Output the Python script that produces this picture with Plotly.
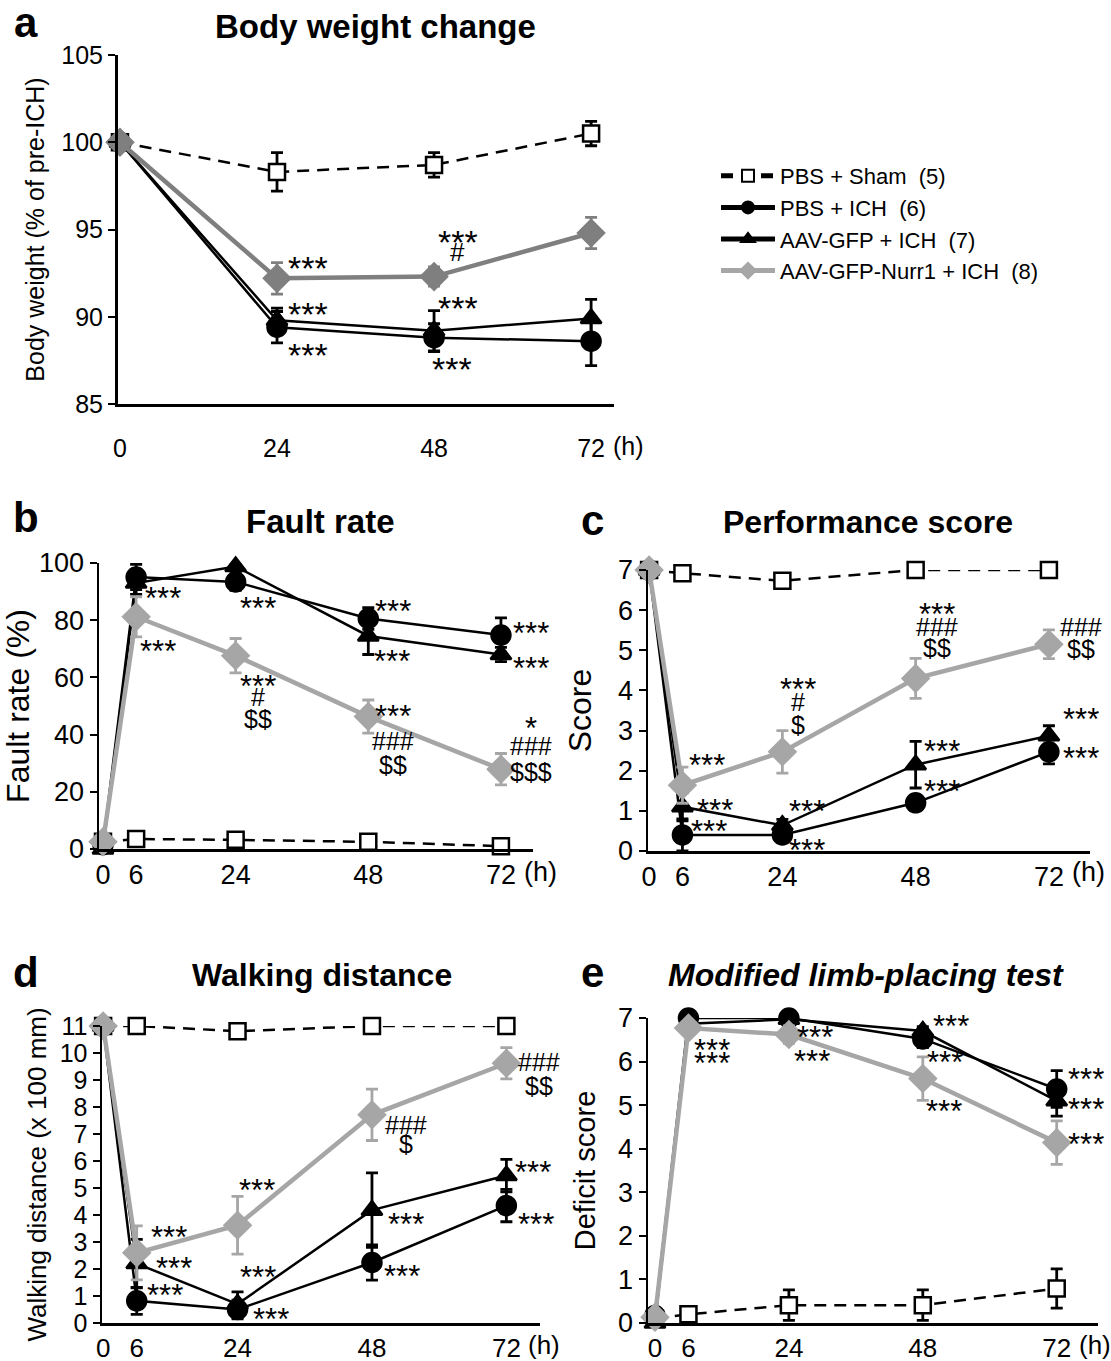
import plotly.graph_objects as go

W, H = 1111, 1361
FONT = "Arial, Liberation Sans, Helvetica, sans-serif"

# ---------------- data ----------------
groups = ["PBS + Sham  (5)", "PBS + ICH  (6)", "AAV-GFP + ICH  (7)", "AAV-GFP-Nurr1 + ICH  (8)"]

# a: body weight change (% of pre-ICH)
t_a = [0, 24, 48, 72]
bw_sham = [100, 98.3, 98.7, 100.5]
bw_sham_err = [0, 1.1, 0.7, 0.7]
bw_pbs = [100, 89.4, 88.8, 88.6]
bw_pbs_err = [0, 0.9, 0.8, 1.4]
bw_gfp = [100, 89.8, 89.2, 89.9]
bw_gfp_err = [0, 0.7, 1.15, 1.1]
bw_nurr = [100, 92.2, 92.3, 94.8]
bw_nurr_err = [0, 0.9, 0.55, 0.9]

# b-e time points
t = [0, 6, 24, 48, 72]

# b: fault rate (%)
fr_sham = [2.5, 3.5, 3.2, 2.5, 1.0]
fr_sham_err = [0, 0.5, 0.5, 0.5, 0.5]
fr_pbs = [1.5, 95.1, 93.4, 80.6, 74.8]
fr_pbs_err = [0, 4.4, 3.0, 3.8, 6.0]
fr_gfp = [0, 93.0, 98.8, 74.5, 68.0]
fr_gfp_err = [0, 4.0, 1.5, 6.5, 2.5]
fr_nurr = [2.5, 81.2, 67.6, 46.3, 27.9]
fr_nurr_err = [0, 7.0, 6.0, 5.8, 5.5]

# c: performance score
ps_sham = [7, 6.92, 6.73, 7.0, 7.0]
ps_sham_err = [0, 0.05, 0.15, 0.05, 0.05]
ps_pbs = [7, 0.4, 0.4, 1.2, 2.47]
ps_pbs_err = [0, 0.4, 0.1, 0.12, 0.3]
ps_gfp = [7, 1.1, 0.64, 2.15, 2.87]
ps_gfp_err = [0, 0.35, 0.15, 0.58, 0.25]
ps_nurr = [7, 1.64, 2.47, 4.3, 5.15]
ps_nurr_err = [0, 0.45, 0.53, 0.5, 0.36]

# d: walking distance (x 100 mm)
wd_sham = [11, 11, 10.81, 11, 11]
wd_sham_err = [0, 0.05, 0.08, 0.05, 0.05]
wd_pbs = [11, 0.82, 0.5, 2.24, 4.35]
wd_pbs_err = [0, 0.5, 0.35, 0.65, 0.6]
wd_gfp = [11, 2.2, 0.7, 4.18, 5.46]
wd_gfp_err = [0, 0.9, 0.45, 1.38, 0.6]
wd_nurr = [11, 2.6, 3.62, 7.71, 9.62]
wd_nurr_err = [0, 1.0, 1.07, 0.95, 0.58]

# e: modified limb-placing test deficit score
ml_sham = [0.1, 0.2, 0.41, 0.41, 0.79]
ml_sham_err = [0, 0.1, 0.35, 0.35, 0.45]
ml_pbs = [0.17, 7.0, 7.0, 6.52, 5.37]
ml_pbs_err = [0, 0.0, 0.05, 0.2, 0.42]
ml_gfp = [0.0, 6.87, 6.97, 6.7, 5.1]
ml_gfp_err = [0, 0.1, 0.05, 0.1, 0.35]
ml_nurr = [0.13, 6.77, 6.62, 5.61, 4.14]
ml_nurr_err = [0, 0.15, 0.2, 0.5, 0.5]

# significance labels (text, hour, value)
sig_a = [("***", 28.7, 93.3), ("***", 28.7, 90.66), ("***", 28.7, 88.3),
         ("***", 51.6, 94.8), ("#", 51.6, 93.7), ("***", 51.6, 91.0), ("***", 50.8, 87.5),
         ("***", 77.0, 96.3), ("###", 77.0, 95.0), ("$$$", 77.0, 93.4),
         ("***", 77.0, 90.5), ("***", 77.0, 88.3)]
sig_b = [("***", 11.2, 100.9), ("***", 10.9, 90.5), ("***", 10.0, 71.9),
         ("***", 28.1, 100.9), ("***", 28.1, 87.0), ("***", 28.0, 59.5), ("#", 28.0, 53.3), ("$$", 28.0, 45.3),
         ("***", 52.5, 85.8), ("***", 52.2, 68.4), ("***", 52.5, 49.2), ("###", 52.5, 37.6), ("$$", 52.5, 29.4),
         ("***", 77.5, 78.3), ("***", 77.5, 66.0), ("*", 77.5, 45.1), ("###", 77.5, 36.0), ("$$$", 77.5, 27.0)]
sig_c = [("***", 10.5, 2.34), ("***", 11.8, 1.22), ("***", 10.8, 0.68),
         ("***", 28.4, 1.18), ("***", 28.4, 0.22), ("***", 26.8, 4.22), ("#", 26.8, 3.7), ("$", 26.8, 3.14),
         ("***", 52.8, 2.68), ("***", 52.8, 1.68), ("***", 51.8, 6.09), ("###", 51.8, 5.59), ("$$", 51.8, 5.05),
         ("###", 77.8, 5.59), ("$$", 77.8, 5.02), ("***", 77.8, 3.47), ("***", 77.8, 2.5)]
sig_d = [("***", 11.7, 3.47), ("***", 12.7, 2.32), ("***", 11.1, 1.32),
         ("***", 27.4, 5.19), ("***", 27.7, 1.97), ("***", 30.0, 0.42),
         ("***", 54.0, 3.96), ("***", 53.4, 2.02), ("###", 54.0, 7.34), ("$", 54.0, 6.64),
         ("###", 77.8, 9.68), ("$$", 77.8, 8.78), ("***", 76.8, 5.87), ("***", 77.2, 3.96)]
sig_e = [("***", 9.9, 7.3), ("***", 10.2, 6.44), ("***", 10.2, 6.14),
         ("***", 28.7, 7.27), ("***", 28.7, 6.73), ("***", 28.2, 6.18),
         ("***", 53.0, 7.0), ("***", 52.0, 6.16), ("***", 51.8, 5.04),
         ("***", 77.2, 5.77), ("***", 77.2, 5.08), ("***", 77.2, 4.28)]

# ---------------- helpers ----------------
def pxx(x):
    return x / W

def pyy(y):
    return 1 - y / H

GRAY_A = "#7f7f7f"
GRAY = "#a6a6a6"

fig = go.Figure()


def add_series(xref, yref, x, ys, errs, gray, legend):
    styles = [
        dict(color="black", symbol="square", fill="white", size=16, lw=2.5, dash="12px,8px"),
        dict(color="black", symbol="circle", fill="black", size=19, lw=2.5, dash="solid"),
        dict(color="black", symbol="triangle-up", fill="black", size=18, lw=2.5, dash="solid"),
        dict(color=gray, symbol="diamond", fill=gray, size=20, lw=4.5, dash="solid"),
    ]
    for i, (y, e, s) in enumerate(zip(ys, errs, styles)):
        fig.add_trace(go.Scatter(
            x=x, y=y, xaxis=xref, yaxis=yref, mode="lines+markers",
            name=groups[i], showlegend=legend, cliponaxis=False,
            line=dict(color=s["color"], width=s["lw"], dash=s["dash"]),
            marker=dict(symbol=s["symbol"], size=s["size"], color=s["fill"],
                        line=dict(color=s["color"], width=2.5)),
            error_y=dict(type="data", array=e, visible=True, color=s["color"],
                         thickness=2.8, width=6),
        ))


add_series("x", "y", t_a, [bw_sham, bw_pbs, bw_gfp, bw_nurr],
           [bw_sham_err, bw_pbs_err, bw_gfp_err, bw_nurr_err], GRAY_A, False)
add_series("x2", "y2", t, [fr_sham, fr_pbs, fr_gfp, fr_nurr],
           [fr_sham_err, fr_pbs_err, fr_gfp_err, fr_nurr_err], GRAY, True)
add_series("x3", "y3", t, [ps_sham, ps_pbs, ps_gfp, ps_nurr],
           [ps_sham_err, ps_pbs_err, ps_gfp_err, ps_nurr_err], GRAY, False)
add_series("x4", "y4", t, [wd_sham, wd_pbs, wd_gfp, wd_nurr],
           [wd_sham_err, wd_pbs_err, wd_gfp_err, wd_nurr_err], GRAY, False)
add_series("x5", "y5", t, [ml_sham, ml_pbs, ml_gfp, ml_nurr],
           [ml_sham_err, ml_pbs_err, ml_gfp_err, ml_nurr_err], GRAY, False)

# ---------------- axes ----------------
def xaxis(dom, rng, vals, texts, fs, standoff, lw, anchor):
    return dict(domain=[pxx(dom[0]), pxx(dom[1])], range=rng, showline=True, linecolor="black",
                linewidth=lw, ticks="", ticklen=0, tickvals=vals, ticktext=texts, showgrid=False,
                zeroline=False, tickfont=dict(size=fs, color="black", family=FONT),
                ticklabelstandoff=standoff, fixedrange=True, automargin=False, anchor=anchor)


def yaxis(dom, rng, dtick, title, tfs, fs, tstand, lw, anchor):
    return dict(domain=[pyy(dom[1]), pyy(dom[0])], range=rng, showline=True, linecolor="black",
                linewidth=lw, ticks="outside", ticklen=7, tickwidth=2, tickcolor="black",
                dtick=dtick, tick0=rng[0], showgrid=False, zeroline=False,
                tickfont=dict(size=fs, color="black", family=FONT),
                title=dict(text=title, font=dict(size=tfs, color="black", family=FONT), standoff=tstand),
                anchor=anchor, automargin=False, fixedrange=True)

xv = [0, 6, 24, 48, 72]
xt = ["0", "6", "24", "48", "72"]

fig.update_layout(
    xaxis=xaxis([118, 614], [-0.3, 75.5], [0, 24, 48, 72], ["0", "24", "48", "72"], 25, 20, 3, "y"),
    yaxis=yaxis([55, 404], [85, 105], 5, "Body weight (% of pre-ICH)", 25, 25, 10, 3, "x"),
    xaxis2=xaxis([99, 533], [-0.72, 77.8], xv, xt, 27, 0, 2.5, "y2"),
    yaxis2=yaxis([563, 849], [0, 100], 20, "Fault rate (%)", 32, 27, 1, 2.5, "x2"),
    xaxis3=xaxis([648, 1090], [-0.2, 79.4], xv, xt, 27, 0, 2.5, "y3"),
    yaxis3=yaxis([570, 851], [0, 7], 1, "Score", 32, 27, 17, 2.5, "x3"),
    xaxis4=xaxis([102, 540], [-0.2, 78.0], xv, xt, 26, 0, 2.5, "y4"),
    yaxis4=yaxis([1026, 1323], [0, 11], 1, "Walking distance (x 100 mm)", 26, 25, 6, 2.5, "x4"),
    xaxis5=xaxis([648, 1098], [-1.25, 79.4], xv, xt, 26, 0, 2.5, "y5"),
    yaxis5=yaxis([1018, 1323], [0, 7], 1, "Deficit score", 29, 27, 14, 2.5, "x5"),
)

# ---------------- annotations ----------------
ann = []

def sig(lst, xr, yr, fs_star, fs_other):
    for txt, xx, yy in lst:
        star = set(txt) == {"*"}
        fs = fs_star if star else fs_other
        ann.append(dict(text=txt, x=xx, y=yy, xref=xr, yref=yr, showarrow=False,
                        xanchor="center", yanchor="middle",
                        yshift=-round(fs * 0.27) if star else 0,
                        font=dict(size=fs, color="black", family=FONT)))

sig(sig_a, "x", "y", 34, 26)
sig(sig_b, "x2", "y2", 31, 25)
sig(sig_c, "x3", "y3", 31, 25)
sig(sig_d, "x4", "y4", 31, 25)
sig(sig_e, "x5", "y5", 31, 25)

def ptext(txt, x, y, fs, bold=True, xanchor="center"):
    ann.append(dict(text=txt, x=pxx(x), y=pyy(y), xref="paper", yref="paper", showarrow=False,
                    xanchor=xanchor, yanchor="middle",
                    font=dict(size=fs, color="black", family=FONT,
                              weight="bold" if bold else "normal")))

# panel letters and titles
ptext("a", 26, 22, 42)
ptext("Body weight change", 376, 27, 33)
ptext("b", 26, 518, 42)
ptext("Fault rate", 320, 521, 33)
ptext("c", 592, 520, 42)
ptext("Performance score", 868, 522, 32)
ptext("d", 26, 972, 42)
ptext("Walking distance", 322, 975, 32)
ptext("e", 592, 972, 42)
ptext("<i>Modified limb-placing test</i>", 866, 975, 32)

# "(h)" unit labels to the right of the 72 tick label
for xr, y, fs, sh in [("x", 446, 25, 20), ("x2", 872, 27, 21), ("x3", 872, 27, 21),
                      ("x4", 1345, 26, 20), ("x5", 1345, 26, 20)]:
    ann.append(dict(text="(h)", x=72, y=pyy(y), xref=xr, yref="paper", showarrow=False,
                    xanchor="left", yanchor="middle", xshift=sh,
                    font=dict(size=fs, color="black", family=FONT)))

fig.update_layout(
    annotations=ann,
    width=W, height=H,
    margin=dict(l=0, r=0, t=0, b=0, autoexpand=False),
    paper_bgcolor="white", plot_bgcolor="white",
    font=dict(family=FONT, color="black"),
    showlegend=True,
    legend=dict(x=pxx(716), y=pyy(155), xanchor="left", yanchor="top",
                font=dict(size=22, color="black", family=FONT),
                bgcolor="rgba(0,0,0,0)", itemsizing="constant", tracegroupgap=0,
                itemwidth=54),
)

fig.write_html("out.html",
               config={"displayModeBar": False, "staticPlot": True},
               post_script="document.body.style.margin='0';document.body.style.padding='0';"
                           "document.body.style.overflow='hidden';")
